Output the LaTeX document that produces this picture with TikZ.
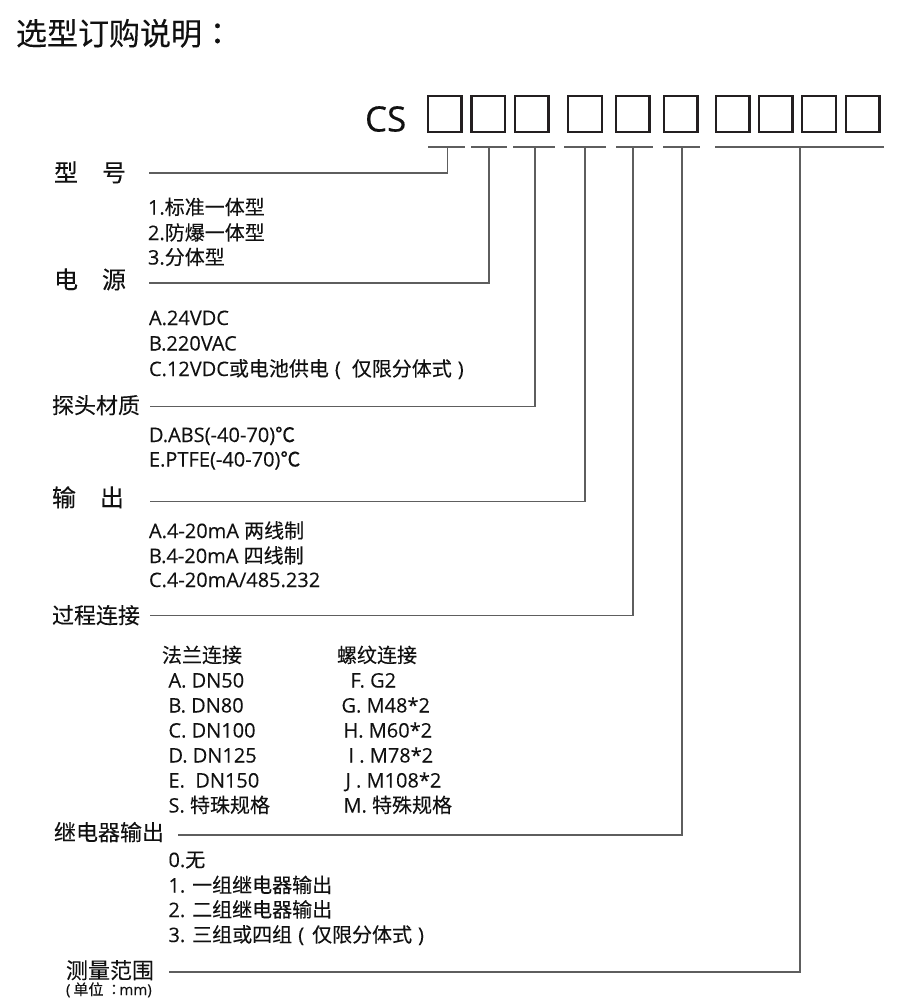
\documentclass[tikz,border=0pt]{standalone}
\usepackage{fontspec}
\setmainfont{Open Sans}[FakeBold=0.12]
\newfontfamily\cjk{Noto Sans CJK SC}[FakeBold=0.12]
\newfontfamily\cjktc{Noto Sans CJK TC}[FakeBold=0.12]
\definecolor{txt}{HTML}{111111}
\definecolor{boxc}{HTML}{231F20}
\definecolor{linec}{HTML}{5E5E5E}
\begin{document}
\begin{tikzpicture}[x=1pt,y=-1pt,
  every node/.style={inner sep=0pt, outer sep=0pt, anchor=base west, text=txt},
  ttl/.style={font=\cjk\fontsize{31}{36}\selectfont},
  hda/.style={font=\cjk\fontsize{24}{28}\selectfont},
  hdb/.style={font=\cjk\fontsize{22}{26}\selectfont},
  itm/.style={font=\fontsize{20}{25}\selectfont},
  sml/.style={font=\fontsize{15}{18}\selectfont},
  csl/.style={font=\fontsize{35}{40}\selectfont},
  cbox/.style={draw=boxc, line width=2.4pt, minimum width=33.6pt, minimum height=35.6pt, anchor=center},
  conn/.style={draw=linec, line width=1.3pt},
]
\fill[white] (0,0) rectangle (920,1004);
\useasboundingbox (0,0) rectangle (920,1004);

% title
\node[ttl] (title) at (16,45) {选型订购说明{\cjktc ：}};

% code boxes
\node[csl] (cs) at (365,131.5) {CS};
\node[cbox] (b1) at (444.7,114) {};
\node[cbox] (b2) at (488.3,114) {};
\node[cbox] (b3) at (531.5,114) {};
\node[cbox] (b4) at (585,114) {};
\node[cbox] (b5) at (632.5,114) {};
\node[cbox] (b6) at (680.5,114) {};
\node[cbox] (b7) at (732.5,114) {};
\node[cbox] (b8) at (775.5,114) {};
\node[cbox] (b9) at (819,114) {};
\node[cbox] (b10) at (862.5,114) {};

% tick bars under the boxes
\draw[conn] (428,147) -- (465,147);
\draw[conn] (471,147) -- (507,147);
\draw[conn] (513,147) -- (555,147);
\draw[conn] (564,147) -- (606,147);
\draw[conn] (616,147) -- (653,147);
\draw[conn] (663,147) -- (700,147);
\draw[conn] (715,147) -- (884,147);
\coordinate (t1) at (447.7,147);
\coordinate (t2) at (489,147);
\coordinate (t3) at (535,147);
\coordinate (t4) at (585,147);
\coordinate (t5) at (633,147);
\coordinate (t6) at (682,147);
\coordinate (t7) at (800,147);

% headings
\node[hda] (h1) at (54,181.5) {型　号};
\node[hda] (h2) at (54,288.5) {电　源};
\node[hdb] (h3) at (52,413.5) {探头材质};
\node[hda] (h4) at (52,506.5) {输　出};
\node[hdb] (h5) at (52,623.5) {过程连接};
\node[hdb] (h6) at (54,840.5) {继电器输出};
\node[hdb] (h7) at (66,978.5) {测量范围};
\node[sml] (h7u) at (66,995) {(\hspace{3pt}{\cjk 单位}\hspace{3pt}{\cjktc ：}\hspace{-2pt}mm)};

% connector starts
\coordinate (s1) at (149,173);
\coordinate (s2) at (149,283);
\coordinate (s3) at (150,406.7);
\coordinate (s4) at (150,501.7);
\coordinate (s5) at (150,615.7);
\coordinate (s6) at (178,835);
\coordinate (s7) at (169,972);
\draw[conn] (s1) -| (t1);
\draw[conn] (s2) -| (t2);
\draw[conn] (s3) -| (t3);
\draw[conn] (s4) -| (t4);
\draw[conn] (s5) -| (t5);
\draw[conn] (s6) -| (t6);
\draw[conn] (s7) -| (t7);

% lists
\node[itm] (a1) at (148,214.5) {1.{\cjk 标准一体型}};
\node[itm] (a2) at (148,240) {2.{\cjk 防爆一体型}};
\node[itm] (a3) at (148,264.5) {3.{\cjk 分体型}};

\node[itm] (p1) at (149,325) {A.24VDC};
\node[itm] (p2) at (149,350.5) {B.220VAC};
\node[itm] (p3) at (149,376) {C.12VDC{\cjk 或电池供电}\hspace{6pt}(\hspace{11pt}{\cjk 仅限分体式}\hspace{6pt})};

\node[itm] (m1) at (149,442) {D.ABS(-40-70){\cjk ℃}};
\node[itm] (m2) at (149,466.5) {E.PTFE(-40-70){\cjk ℃}};

\node[itm] (o1) at (149,538) {A.4-20mA {\cjk 两线制}};
\node[itm] (o2) at (149,563) {B.4-20mA {\cjk 四线制}};
\node[itm] (o3) at (149,587) {C.4-20mA/485.232};

\node[itm] (f0) at (162,662.5) {\cjk 法兰连接};
\node[itm] (f1) at (168.5,687.5) {A. DN50};
\node[itm] (f2) at (168.5,712.5) {B. DN80};
\node[itm] (f3) at (168.5,737.5) {C. DN100};
\node[itm] (f4) at (168.5,762.5) {D. DN125};
\node[itm] (f5) at (168.5,787.5) {E.\ \ DN150};
\node[itm] (f6) at (168.5,812.5) {S. {\cjk 特珠规格}};

\node[itm] (g0) at (337,662.5) {\cjk 螺纹连接};
\node[itm] (g1) at (350.5,687.5) {F. G2};
\node[itm] (g2) at (341.5,712.5) {G. M48*2};
\node[itm] (g3) at (343.5,737.5) {H. M60*2};
\node[itm] (g4) at (348.5,762.5) {I . M78*2};
\node[itm] (g5) at (345.5,787.5) {J . M108*2};
\node[itm] (g6) at (343.5,812.5) {M. {\cjk 特殊规格}};

\node[itm] (r0) at (168.5,867) {0.{\cjk 无}};
\node[itm] (r1) at (168.5,892.5) {1. {\cjk 一组继电器输出}};
\node[itm] (r2) at (168.5,917) {2. {\cjk 二组继电器输出}};
\node[itm] (r3) at (168.5,942) {3. {\cjk 三组或四组}\hspace{6pt}(\hspace{8pt}{\cjk 仅限分体式}\hspace{6pt})};
\end{tikzpicture}
\end{document}
